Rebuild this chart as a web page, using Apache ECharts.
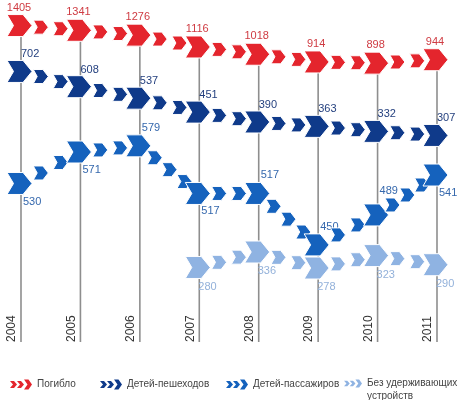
<!DOCTYPE html>
<html><head><meta charset="utf-8">
<script src="https://cdn.jsdelivr.net/npm/echarts@6/dist/echarts.min.js"></script>
<style>html,body{margin:0;padding:0;background:#fff}#c{width:472px;height:400px}</style>
</head><body><div id="c"></div>
<script>
// ---- data ----
const years = ['2004','2005','2006','2007','2008','2009','2010','2011'];
const killed = [1405,1341,1276,1116,1018,914,898,944];
const pedestrians = [702,608,537,451,390,363,332,307];
const passengers = [530,571,579,517,517,450,489,541];
const unrestrained = [null,null,null,280,336,278,323,290];
const seriesNames = ['Погибло','Детей-пешеходов','Детей-пассажиров','Без удерживающих устройств'];

// ---- styles ----
const colors = ['#e4252d','#0f3a8a','#1562bd','#8fb3e2'];
const labelColors = ['#cf3b42','#233f7e','#3568ad','#93b1da'];
const passengerLabelSide = ['below','below','above','below','above','above','above','below'];
const FONT = '"Liberation Sans", Arial, sans-serif';

function chevron(cx, cy, w, h, fill) {
  const head = w * 0.36, notch = w * 0.26;
  return {
    type: 'polygon',
    shape: { points: [[cx - w/2, cy - h/2], [cx + w/2 - head, cy - h/2], [cx + w/2, cy],
                      [cx + w/2 - head, cy + h/2], [cx - w/2, cy + h/2], [cx - w/2 + notch, cy]] },
    style: { fill: fill, stroke: '#ffffff', lineWidth: 1 }
  };
}

function labelPos(k, i, p) {
  if (k === 0) return { x: p[0] - 2, y: p[1] - 18, align: 'center' };
  if (k === 1) return { x: p[0] + 0, y: p[1] - 17, align: 'left' };
  if (k === 2) {
    if (passengerLabelSide[i] === 'above') return { x: p[0] + 2, y: p[1] - (i === 6 ? 24 : 18), align: 'left' };
    return { x: p[0] + 2, y: p[1] + 18, align: 'left' };
  }
  return { x: p[0] - 1, y: p[1] + 19, align: 'left' };
}

function makeRender(values, k) {
  return function (params, api) {
    const i = params.dataIndex;
    const v = values[i];
    if (v == null) return null;
    const p = api.coord([i, v]);
    const children = [];
    if (i > 0 && values[i - 1] != null) {
      const q = api.coord([i - 1, values[i - 1]]);
      const dx = p[0] - q[0], dy = p[1] - q[1];
      const n = Math.max(2, Math.round(Math.hypot(dx, dy) / 20));
      for (let j = 1; j < n; j++) children.push(chevron(q[0] + dx * j / n, q[1] + dy * j / n, 15, 14, colors[k]));
    }
    children.push(chevron(p[0] - 1.5, p[1], 25, 22, colors[k]));
    const L = labelPos(k, i, p);
    children.push({ type: 'text', x: L.x, y: L.y,
      style: { text: String(v), fill: labelColors[k], font: '11px ' + FONT, align: L.align, verticalAlign: 'middle' } });
    return { type: 'group', children: children };
  };
}

const allValues = [killed, pedestrians, passengers, unrestrained];
// per-series y scales (each series drawn on its own hidden axis)
const yRanges = [[-2865, 1750], [-968, 1143], [323.5, 769], [10, 1249]];

const legendIcon = 'path://M0,1.5L4,1.5L7,5L4,8.5L0,8.5L3,5Z M7,1.5L11,1.5L14,5L11,8.5L7,8.5L10,5Z M14,0L18.5,0L22,5L18.5,10L14,10L17.5,5Z';
const legendLefts = [10, 100, 226, 344];
const legendTops = [378, 378, 378, 364];
const legendWidths = [22, 22, 22, 18];

const chart = echarts.init(document.getElementById('c'), null, { renderer: 'canvas' });
const series = [{
  type: 'custom', name: 'grid', xAxisIndex: 0, yAxisIndex: 0, z: 1, silent: true,
  data: killed.map((v, i) => [i, v]),
  renderItem: function (params, api) {
    const i = params.dataIndex;
    const p = api.coord([i, killed[i]]);
    const bottom = params.coordSys.y + params.coordSys.height;
    return { type: 'line', shape: { x1: p[0], y1: p[1], x2: p[0], y2: bottom },
             style: { stroke: '#8e8e8e', lineWidth: 1.6 } };
  }
}];
allValues.forEach((vals, k) => {
  series.push({
    type: 'custom', name: seriesNames[k], xAxisIndex: 0, yAxisIndex: k, z: 2 + k,
    itemStyle: { color: colors[k] },
    data: vals.map((v, i) => [i, v == null ? 0 : v]),
    renderItem: makeRender(vals, k)
  });
});

chart.setOption({
  animation: false,
  grid: { left: 21, right: 35, top: 0, bottom: 58 },
  xAxis: {
    type: 'category', data: years, boundaryGap: false,
    axisLine: { show: false }, axisTick: { show: false }, splitLine: { show: false },
    axisLabel: { inside: true, rotate: 90, margin: 0, interval: 0, align: 'left', verticalAlign: 'bottom',
                 fontSize: 12, color: '#333', fontFamily: FONT, padding: [0, 0, 3, 0] }
  },
  yAxis: yRanges.map(r => ({ type: 'value', min: r[0], max: r[1], show: false, splitLine: { show: false } })),
  legend: seriesNames.map((n, k) => ({
    data: [{ name: n, icon: legendIcon }],
    left: legendLefts[k], top: legendTops[k], padding: 0, itemWidth: legendWidths[k], itemHeight: 10, selectedMode: false,
    textStyle: { fontSize: 10, color: '#444', fontFamily: FONT, lineHeight: 13 },
    formatter: function (name) { return name.indexOf(' устройств') >= 0 ? '\n' + name.replace(' устройств', '\nустройств') : name; }
  })),
  series: series
});
</script></body></html>
